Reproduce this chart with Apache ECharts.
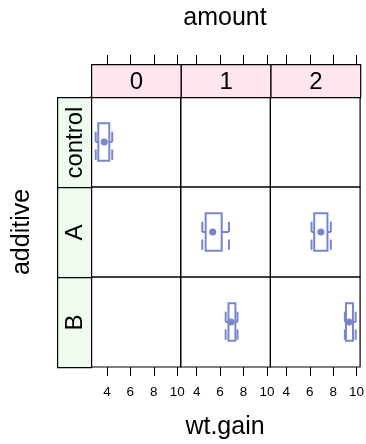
<!DOCTYPE html>
<html>
<head>
<meta charset="utf-8">
<script src="https://cdn.jsdelivr.net/npm/echarts@6/dist/echarts.min.js"></script>
<style>
  html, body { margin: 0; padding: 0; background: #fff; }
  #chart { width: 366px; height: 444px; }
</style>
</head>
<body>
<div id="chart"></div>
<script>
// panels: columns = amount, rows = additive
const amounts = ['0', '1', '2'];
const additives = ['control', 'A', 'B'];
const xTicks = [4, 6, 8, 10];

// box stats per panel: [lower whisker, Q1, median, Q3, upper whisker]
const controlAt0 = [3.04, 3.26, 3.77, 4.2, 4.45];
const aAt1 = [4.48, 4.77, 5.37, 6.14, 6.76];
const aAt2 = [6.15, 6.38, 6.95, 7.51, 7.8];
const bAt1 = [6.48, 6.72, 6.93, 7.31, 7.49];
const bAt2 = [9.0, 9.09, 9.35, 9.69, 9.92];

// [row, col, stats]
const panels = [
    [0, 0, controlAt0],
    [1, 1, aAt1],
    [1, 2, aAt2],
    [2, 1, bAt1],
    [2, 2, bAt2]
];

const font = 'Liberation Sans, Arial, Helvetica, sans-serif';
const boxColor = '#7A86CB';
const left0 = 91, top0 = 97, cellW = 89.7, cellH = 90;
const xMin = 2.638, xMax = 10.3;

const grids = [], xAxes = [], yAxes = [];
for (let r = 0; r < 3; r++) {
    for (let c = 0; c < 3; c++) {
        grids.push({
            left: left0 + c * cellW,
            top: top0 + r * cellH,
            width: cellW,
            height: cellH,
            show: true,
            borderColor: '#000',
            borderWidth: 1.2,
            outerBoundsMode: 'none'
        });
        const idx = r * 3 + c;
        const xa = {
            type: 'value',
            gridIndex: idx,
            min: xMin,
            max: xMax,
            splitLine: { show: false },
            axisLine: { show: false },
            axisTick: { show: false },
            axisLabel: { show: false }
        };
        if (r === 0) {
            xa.position = 'top';
            xa.offset = 33;
            xa.axisTick = { show: true, inside: false, length: 9, customValues: xTicks, lineStyle: { color: '#000', width: 1 } };
        } else if (r === 2) {
            xa.position = 'bottom';
            xa.axisTick = { show: true, inside: false, length: 9, customValues: xTicks, lineStyle: { color: '#000', width: 1 } };
            xa.axisLabel = { show: true, customValues: xTicks, margin: 18, fontSize: 13.5, color: '#000', fontFamily: font };
        }
        xAxes.push(xa);
        yAxes.push({
            type: 'value',
            gridIndex: idx,
            min: 0.4,
            max: 1.6,
            show: false
        });
    }
}

function renderBox(params, api) {
    const y = api.value(0);
    const lo = api.coord([api.value(1), y])[0];
    const q1 = api.coord([api.value(2), y])[0];
    const md = api.coord([api.value(3), y]);
    const q3 = api.coord([api.value(4), y])[0];
    const hi = api.coord([api.value(5), y])[0];
    const cy = md[1];
    const hh = api.size([0, 0.25])[1];
    const ls = { stroke: boxColor, lineWidth: 2, fill: null };
    const line = (x1, y1, x2, y2) => ({ type: 'line', shape: { x1, y1, x2, y2 }, style: ls });
    return {
        type: 'group',
        children: [
            { type: 'rect', shape: { x: q1, y: cy - hh, width: q3 - q1, height: 2 * hh }, style: ls },
            line(lo, cy, q1, cy),
            line(q3, cy, hi, cy),
            line(lo, cy - 0.55 * hh, lo, cy),
            line(lo, cy + 0.4 * hh, lo, cy + 0.95 * hh),
            line(hi, cy - 0.55 * hh, hi, cy),
            line(hi, cy + 0.4 * hh, hi, cy + 0.95 * hh),
            { type: 'circle', shape: { cx: md[0], cy: cy, r: 3.6 }, style: { fill: boxColor } }
        ]
    };
}

const series = panels.map(([r, c, s]) => ({
    type: 'custom',
    xAxisIndex: r * 3 + c,
    yAxisIndex: r * 3 + c,
    renderItem: renderBox,
    encode: { x: [1, 2, 3, 4, 5], y: 0 },
    data: [[1].concat(s)]
}));

const graphics = [];
amounts.forEach((a, c) => {
    graphics.push({
        type: 'group', left: left0 + c * cellW, top: 64,
        children: [
            { type: 'rect', shape: { x: 0, y: 0, width: cellW, height: 33 }, style: { fill: '#FFE5EC', stroke: '#000', lineWidth: 1.2 } },
            { type: 'text', x: cellW / 2, y: 17.5, style: { text: a, fill: '#000', font: '24px ' + font, textAlign: 'center', textVerticalAlign: 'middle' } }
        ]
    });
});
additives.forEach((a, r) => {
    graphics.push({
        type: 'group', left: 57, top: top0 + r * cellH,
        children: [
            { type: 'rect', shape: { x: 0, y: 0, width: 34, height: cellH }, style: { fill: '#EFFBEF', stroke: '#000', lineWidth: 1.2 } },
            { type: 'text', x: 17.5, y: cellH / 2, rotation: Math.PI / 2, style: { text: a, fill: '#000', font: '24px ' + font, textAlign: 'center', textVerticalAlign: 'middle' } }
        ]
    });
});
graphics.push(
    { type: 'text', x: 225, y: 18, style: { text: 'amount', fill: '#000', font: '25px ' + font, textAlign: 'center', textVerticalAlign: 'middle' } },
    { type: 'text', x: 225, y: 427, style: { text: 'wt.gain', fill: '#000', font: '25px ' + font, textAlign: 'center', textVerticalAlign: 'middle' } },
    { type: 'text', x: 22, y: 232, rotation: Math.PI / 2, style: { text: 'additive', fill: '#000', font: '25px ' + font, textAlign: 'center', textVerticalAlign: 'middle' } }
);

const chart = echarts.init(document.getElementById('chart'));
chart.setOption({
    animation: false,
    backgroundColor: '#fff',
    grid: grids,
    xAxis: xAxes,
    yAxis: yAxes,
    series: series,
    graphic: graphics
});
</script>
</body>
</html>
